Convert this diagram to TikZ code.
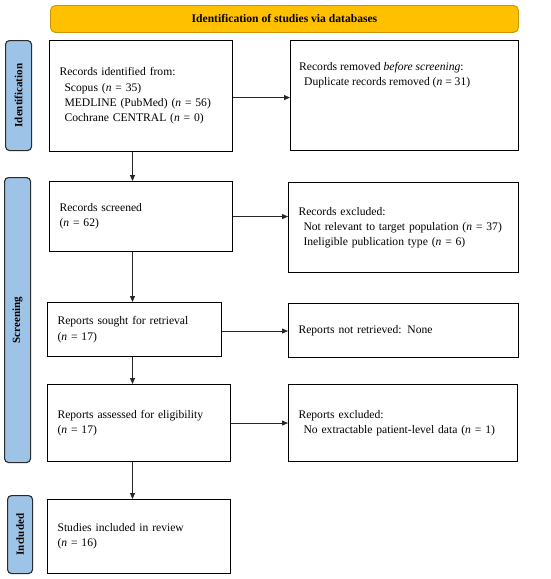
\documentclass[tikz,border=0pt]{standalone}
\usepackage{fontspec}
\setmainfont{Liberation Serif}
\usetikzlibrary{arrows.meta,calc}
\definecolor{hdrfill}{HTML}{FFC000}
\definecolor{hdrdraw}{HTML}{C89600}
\definecolor{sidefill}{HTML}{9DC3E6}
\definecolor{sidedraw}{HTML}{2B2B2B}
\begin{document}
\begin{tikzpicture}[x=1pt,y=-1pt,
  box/.style={draw=black,line width=1.1pt,fill=white,align=left,anchor=north west,inner xsep=10pt,inner ysep=0pt,
    font=\fontsize{11.6}{15.3}\selectfont},
  sidebar/.style={draw=sidedraw,line width=1.1pt,fill=sidefill,rounded corners=4pt,anchor=north west,inner sep=0pt},
  sidetext/.style={rotate=90,font=\bfseries\fontsize{11}{12}\selectfont,inner sep=0pt},
  arr/.style={draw=black!85,line width=0.8pt,-{Triangle[length=6pt,width=5pt]}}]
\useasboundingbox (0,0) rectangle (550,579);
% header
\node[draw=hdrdraw,line width=0.9pt,fill=hdrfill,rounded corners=5pt,anchor=north west,minimum width=468pt,minimum height=27pt,inner sep=0pt,
  font=\bfseries\fontsize{11.6}{12}\selectfont] (hdr) at (50,5) {Identification of studies via databases};
% side bars
\node[sidebar,minimum width=26pt,minimum height=110pt] (sid) at (5,40) {};
\node[sidetext] (sidt) at (sid.center) {Identification};
\node[sidebar,minimum width=26pt,minimum height=285pt] (sscr) at (4,177) {};
\node[sidetext] (sscrt) at (sscr.center) {Screening};
\node[sidebar,minimum width=25pt,minimum height=78pt] (sinc) at (7,495) {};
\node[sidetext] (sinct) at (sinc.center) {Included};
% boxes
\node[box,minimum width=183pt,minimum height=111pt,text width=163pt] (b1) at (49,40)
  {Records identified from:\\
   \hspace*{5pt}Scopus (\textit{n} = 35)\\
   \hspace*{5pt}MEDLINE (PubMed) (\textit{n} = 56)\\
   \hspace*{5pt}Cochrane CENTRAL (\textit{n} = 0)};
\node[box,minimum width=228pt,minimum height=110pt] (b2) at (290,40) {};
\node[anchor=north west,inner sep=0pt,align=left,font=\fontsize{11.6}{15.3}\selectfont] (b2t) at (299,62)
  {Records removed \textit{before screening}:\\
   \hspace*{5pt}Duplicate records removed (\textit{n} = 31)};
\node[box,minimum width=183pt,minimum height=70pt,text width=163pt] (b3) at (49,181)
  {Records screened\\(\textit{n} = 62)};
\node[box,minimum width=230pt,minimum height=90pt,text width=210pt] (b4) at (288,182)
  {Records excluded:\\
   \hspace*{5pt}Not relevant to target population (\textit{n} = 37)\\
   \hspace*{5pt}Ineligible publication type (\textit{n} = 6)};
\node[box,minimum width=174pt,minimum height=54pt,text width=154pt] (b5) at (47,302)
  {Reports sought for retrieval\\(\textit{n} = 17)};
\node[box,minimum width=230pt,minimum height=54pt,text width=210pt] (b6) at (288,303)
  {Reports not retrieved: None};
\node[box,minimum width=183pt,minimum height=77pt,text width=163pt] (b7) at (47,384)
  {Reports assessed for eligibility\\(\textit{n} = 17)};
\node[box,minimum width=229pt,minimum height=77pt,text width=209pt] (b8) at (288,384)
  {Reports excluded:\\
   \hspace*{5pt}No extractable patient-level data (\textit{n} = 1)};
\node[box,minimum width=183pt,minimum height=74pt,text width=163pt] (b9) at (47,499)
  {Studies included in review\\(\textit{n} = 16)};
% arrows
\coordinate (ax) at (132.5,0);
\draw[arr] (b1.south -| ax) -- (b3.north -| ax);
\draw[arr] (b3.south -| ax) -- (b5.north -| ax);
\draw[arr] (b5.south -| ax) -- (b7.north -| ax);
\draw[arr] (b7.south -| ax) -- (b9.north -| ax);
\coordinate (h1) at ($(b1.east)+(0,1.5)$);
\coordinate (h3) at ($(b5.east)+(0,1.5)$);
\draw[arr] (h1) -- (h1 -| b2.west);
\draw[arr] (b3.east) -- (b3.east -| b4.west);
\draw[arr] (h3) -- (h3 -| b6.west);
\draw[arr] (b7.east) -- (b7.east -| b8.west);
\end{tikzpicture}
\end{document}
